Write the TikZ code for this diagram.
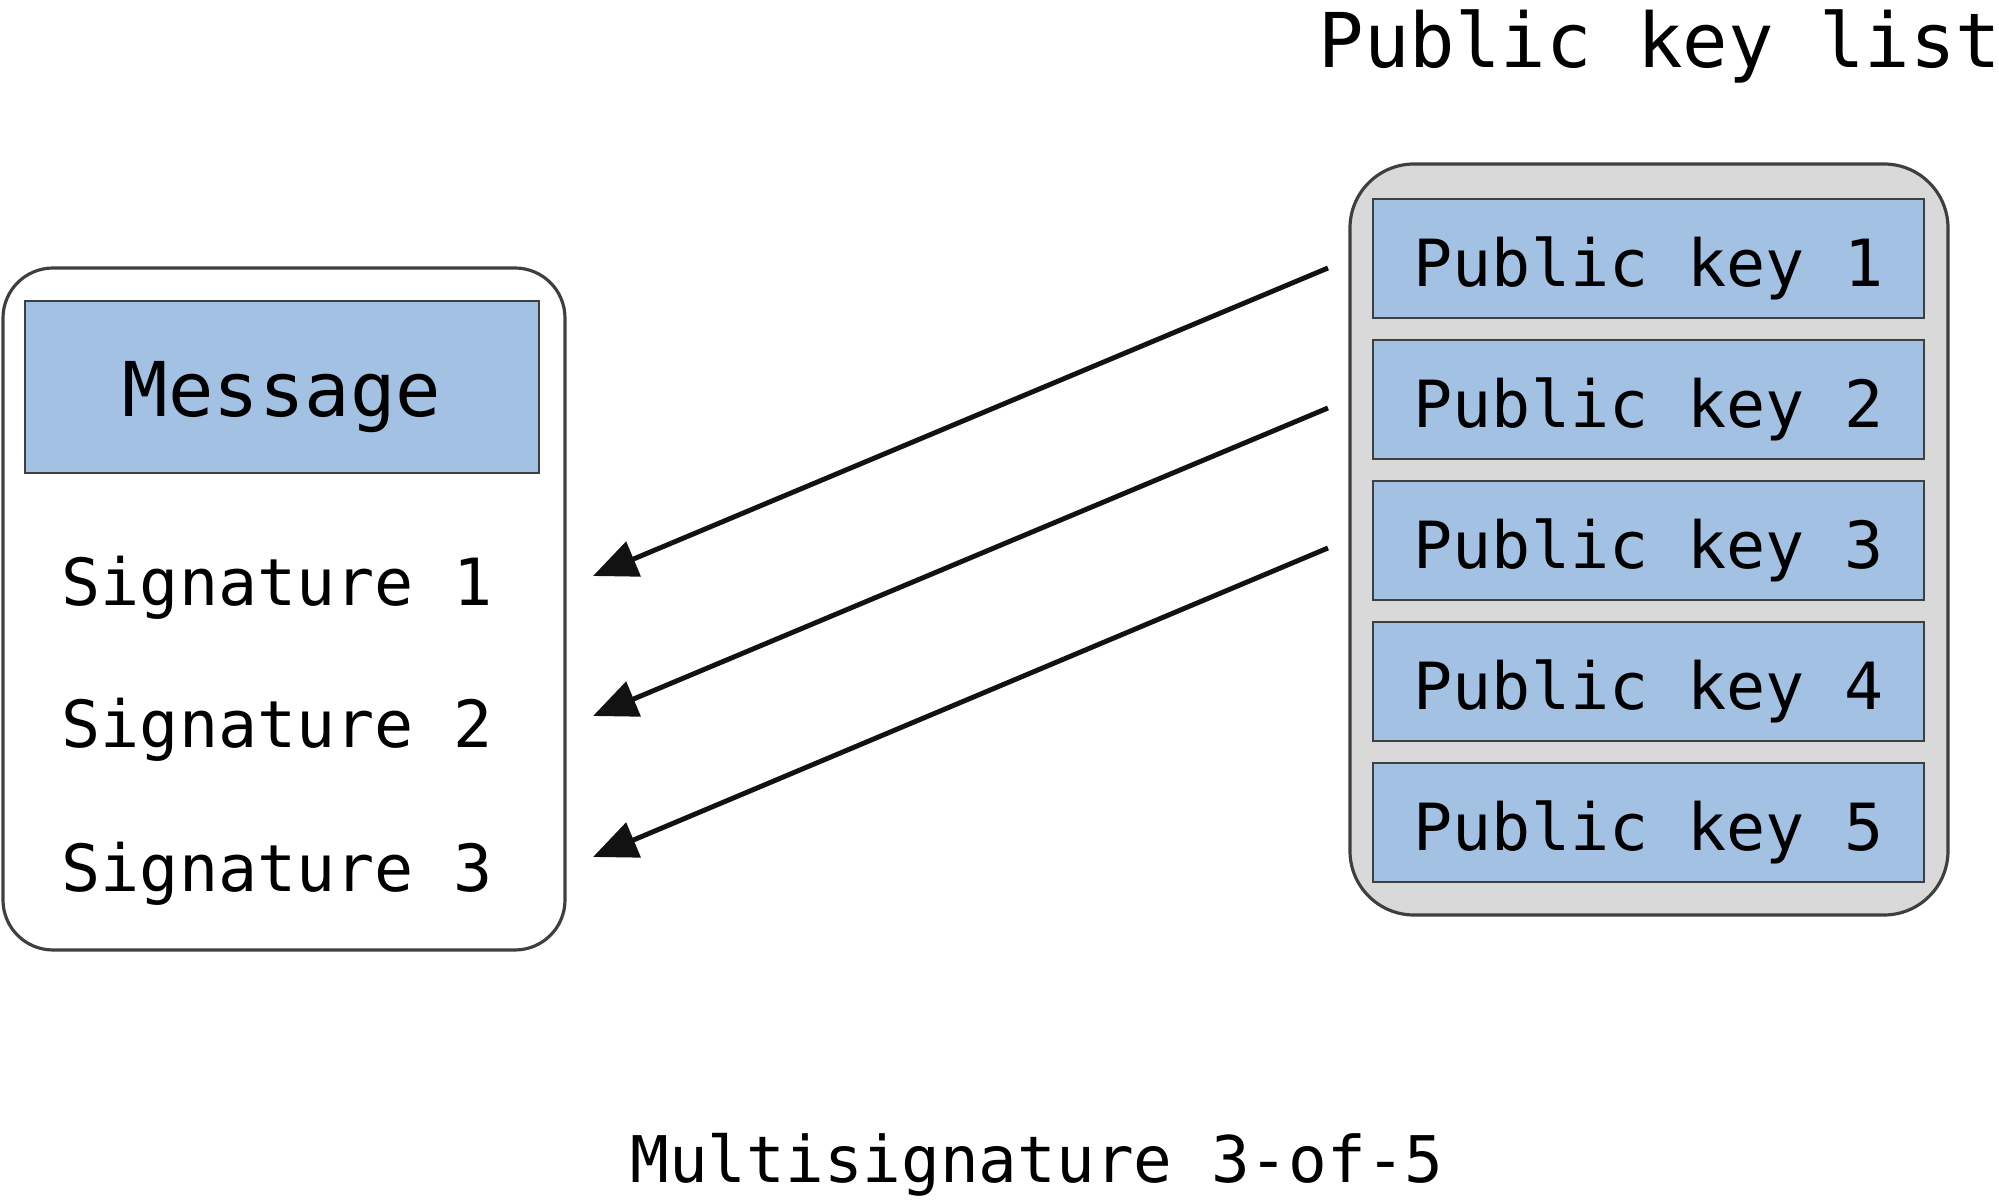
\documentclass[tikz,border=0pt]{standalone}
\usepackage{fontspec}
\setmainfont{DejaVu Sans Mono}
\usetikzlibrary{arrows.meta,positioning}
\definecolor{keyblue}{HTML}{A3C2E3}
\definecolor{listgray}{HTML}{D9D9D9}
\definecolor{edgegray}{HTML}{3F3F3F}

\begin{document}
\begin{tikzpicture}[
    bluebox/.style={draw=edgegray, line width=0.7pt, fill=keyblue, inner sep=0pt},
    keybox/.style={bluebox, minimum width=5.51cm, minimum height=1.19cm, text height=21pt, text depth=5pt, font=\fontsize{18.5}{23}\selectfont},
    sig/.style={font=\fontsize{18.5}{23}\selectfont, inner sep=0pt},
    sigarrow/.style={-{Triangle[length=0.44cm, width=0.37cm]}, line width=1.4pt, draw=black!93}]
\useasboundingbox (0,0) rectangle (19.99,12.03);
%
             \node [draw=edgegray, line width=0.9pt, rounded corners=0.5cm, minimum width=5.62cm, minimum height=6.82cm] at (2.84,5.94) (sigbox) {};
             \node [bluebox, minimum width=5.14cm, minimum height=1.72cm, text height=23.5pt, text depth=6.5pt, font=\fontsize{21.5}{26}\selectfont] at (2.82,8.16) (msg) {Message};
             \foreach \i/\y in {1/5.97, 2/4.55, 3/3.11}
                 \node [sig, anchor=base west] at (0.61,\y) (sig\i) {Signature \i};
%
             \node [draw=edgegray, line width=0.9pt, fill=listgray, rounded corners=0.64cm, minimum width=5.98cm, minimum height=7.51cm] at (16.49,6.635) (list) {};
             \foreach \i in {1,...,5}
                 \node [keybox] at (16.485,{9.445-1.41*(\i-1)}) (key\i) {Public key \i};
             \node [font=\fontsize{21.5}{26}\selectfont, anchor=base] at (16.60,11.35) (title) {Public key list};
             \node [font=\fontsize{18.3}{22}\selectfont, anchor=base] at (10.37,0.20) (caption) {Multisignature 3-of-5};
%
\foreach \i/\y/\z in {1/9.35/6.27, 2/7.95/4.87, 3/6.55/3.46} {
    \coordinate (from\i) at (13.28,\y);
    \coordinate (to\i) at (5.93,\z);
    \draw[sigarrow] (from\i) -- (to\i);
}
\end{tikzpicture}
\end{document}
